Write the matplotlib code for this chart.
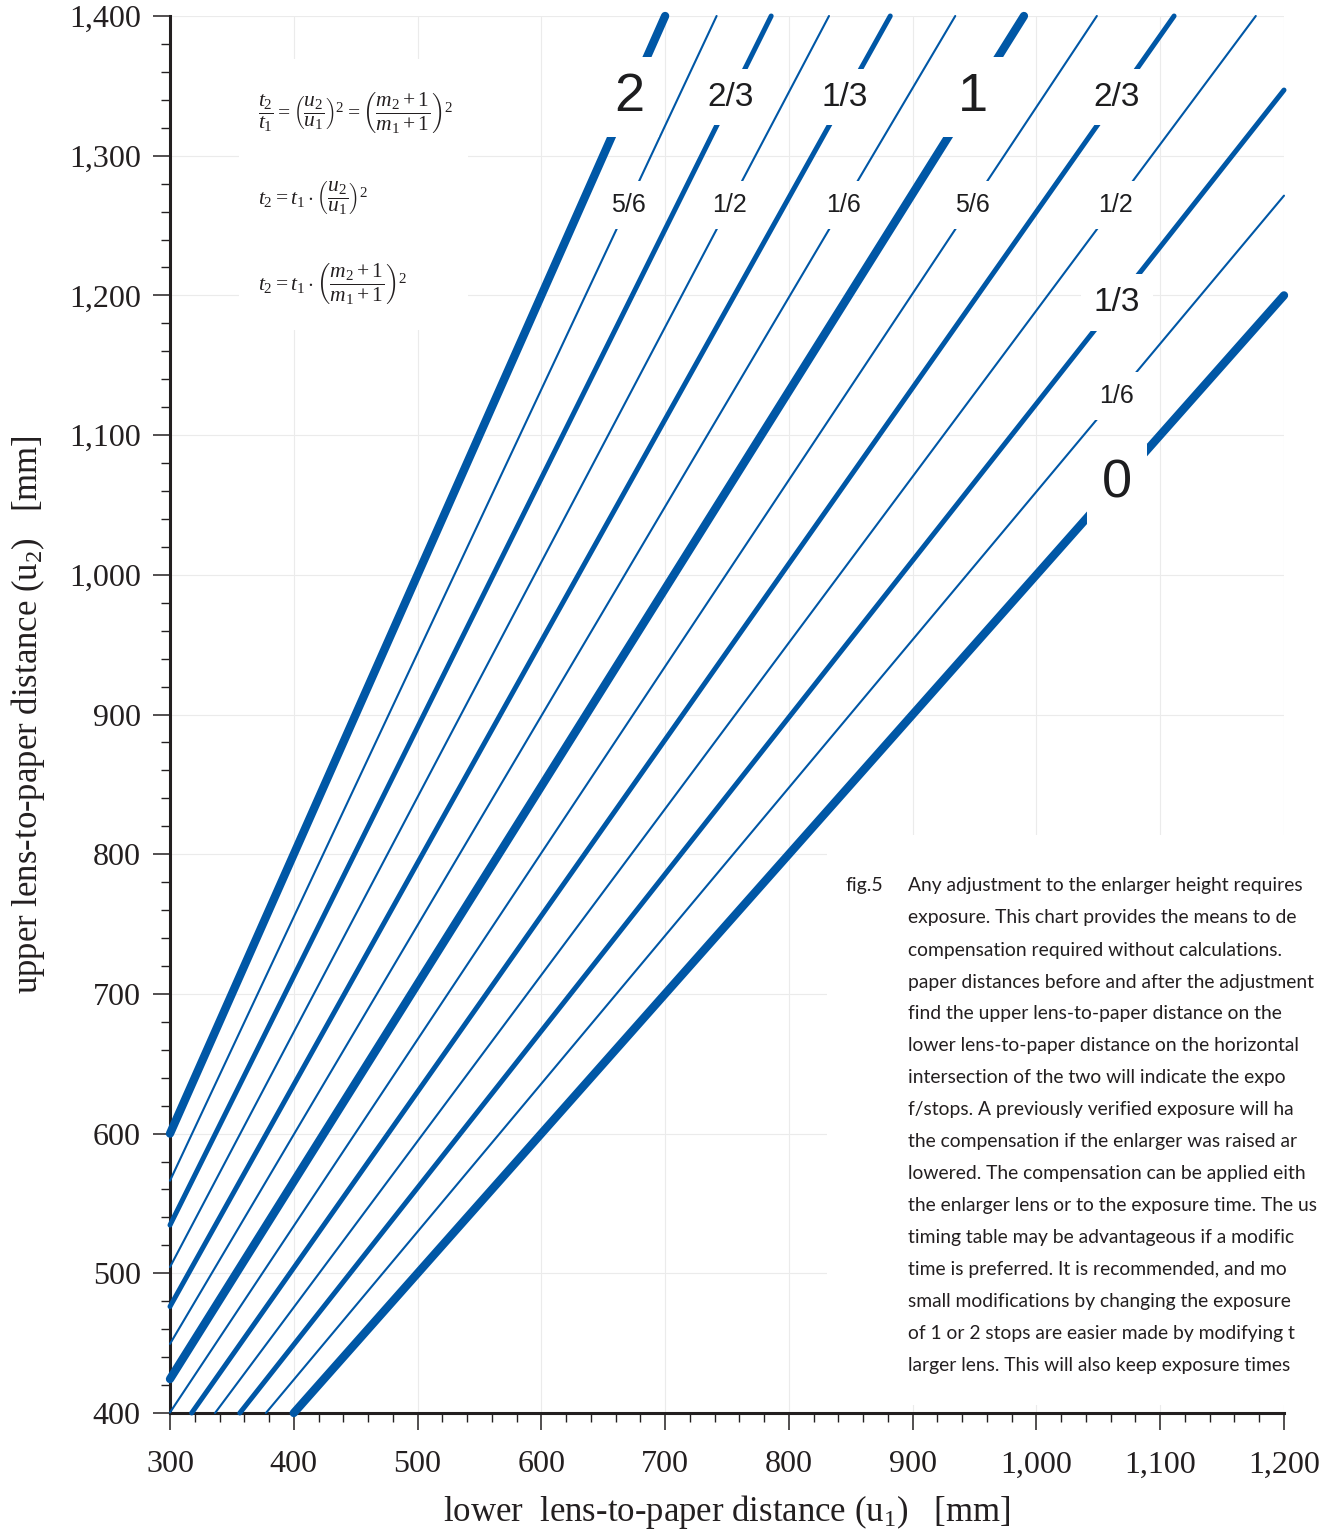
import matplotlib
matplotlib.use("Agg")
import matplotlib.pyplot as plt
from matplotlib.patches import Rectangle
from matplotlib.ticker import MultipleLocator

plt.rcParams['mathtext.fontset'] = 'custom'
plt.rcParams['mathtext.rm'] = 'Liberation Serif'
plt.rcParams['mathtext.it'] = 'Liberation Serif:italic'

# exposure lines: start and end points (u1, u2) in mm, one per 1/6 stop
stops = ['0', '1/6', '1/3', '1/2', '2/3', '5/6', '1', '7/6', '4/3', '3/2', '5/3', '11/6', '2']
u1_start = [400, 377.5, 356.4, 336.4, 317.5, 300, 300, 300, 300, 300, 300, 300, 300]
u2_start = [400, 400, 400, 400, 400, 400.4, 424.3, 449.5, 476.2, 504.5, 534.5, 566.3, 600]
u1_end = [1200, 1200, 1200, 1177.2, 1111.2, 1048.8, 989.9, 934.4, 881.9, 832.4, 785.7, 741.6, 700]
u2_end = [1200, 1271.4, 1347.0, 1400, 1400, 1400, 1400, 1400, 1400, 1400, 1400, 1400, 1400]
weight = ['thick', 'thin', 'mid', 'thin', 'mid', 'thin', 'thick', 'thin', 'mid', 'thin', 'mid', 'thin', 'thick']

# labels drawn on the lines
label_text = ['2', '2/3', '1/3', '1', '2/3', '5/6', '1/2', '1/6', '5/6', '1/2', '1/3', '1/6', '0']
label_u1 = [671, 753, 845, 949, 1065, 670, 752, 844, 948, 1064, 1065, 1065, 1065]
label_u2 = [1342, 1342, 1342, 1342, 1342, 1265, 1265, 1265, 1265, 1265, 1195, 1128, 1065]
label_size = ['big', 'mid', 'mid', 'big', 'mid', 'small', 'small', 'small', 'small', 'small', 'mid', 'small', 'big']

x_ticks = list(range(300, 1201, 100))
y_ticks = list(range(400, 1401, 100))

blue = '#0057a6'
ink = '#231f20'
widths = {'thick': 6.0, 'mid': 3.6, 'thin': 1.5}
fsizes = {'big': 39, 'mid': 24, 'small': 18}

fig = plt.figure(figsize=(13.25, 15.35), dpi=100)
ax = fig.add_axes([170/1325, 1-1413/1535, 1114/1325, 1397/1535])
ax.set_xlim(300, 1200)
ax.set_ylim(400, 1400)
ax.set_axisbelow(True)
ax.grid(True, color='#ebebeb', lw=0.8)

for sp in ['top', 'right']:
    ax.spines[sp].set_visible(False)
for sp in ['left', 'bottom']:
    ax.spines[sp].set_linewidth(2.2)
    ax.spines[sp].set_color(ink)

# white panels behind formulas and caption
ax.add_patch(Rectangle((356, 1175), 185, 194, facecolor='white', edgecolor='none', zorder=1))
ax.add_patch(Rectangle((831, 406), 380, 408, facecolor='white', edgecolor='none', zorder=1,
                       clip_on=False))

for i in range(len(stops)):
    ax.plot([u1_start[i], u1_end[i]], [u2_start[i], u2_end[i]], color=blue,
            lw=widths[weight[i]], solid_capstyle='round', clip_on=False, zorder=3)

for i in range(len(label_text)):
    fs = fsizes[label_size[i]]
    pad = {'big': 0.28, 'mid': 0.38, 'small': 0.48}[label_size[i]]
    ax.text(label_u1[i], label_u2[i], label_text[i], fontsize=fs, family='Liberation Sans',
            color='#1d1d1f', ha='center', va='center', zorder=4,
            bbox=dict(boxstyle='square,pad=%.2f' % pad, facecolor='white', edgecolor='none'))

ax.set_xticks(x_ticks)
ax.set_yticks(y_ticks)
ax.set_xticklabels(['{:,}'.format(v) for v in x_ticks])
ax.set_yticklabels(['{:,}'.format(v) for v in y_ticks])
ax.xaxis.set_minor_locator(MultipleLocator(20))
ax.yaxis.set_minor_locator(MultipleLocator(20))
ax.tick_params(which='major', length=12, width=1.1, color=ink, labelsize=23, labelcolor=ink)
ax.tick_params(which='minor', length=6.5, width=1.0, color=ink)
ax.tick_params(axis='x', which='major', pad=15)
ax.tick_params(axis='y', which='major', pad=9)
for lab in ax.get_xticklabels() + ax.get_yticklabels():
    lab.set_family('Liberation Serif')

ax.set_xlabel(r'lower  lens-to-paper distance (u$_{\rm 1}$)   [mm]', family='Liberation Serif',
              fontsize=25, color=ink, labelpad=10)
ax.set_ylabel(r'upper lens-to-paper distance (u$_{\rm 2}$)   [mm]', family='Liberation Serif',
              fontsize=25, color=ink, labelpad=16)

# formulas
fx = 0.079
ax.text(fx, 1 - 96/1397, r'$\dfrac{t_2}{t_1}=\left(\dfrac{u_2}{u_1}\right)^2=\left(\dfrac{m_2+1}{m_1+1}\right)^2$',
        transform=ax.transAxes, fontsize=15.5, color=ink, va='center', ha='left', zorder=5)
ax.text(fx, 1 - 181/1397, r'$t_2=t_1\cdot\left(\dfrac{u_2}{u_1}\right)^2$',
        transform=ax.transAxes, fontsize=15.5, color=ink, va='center', ha='left', zorder=5)
ax.text(fx, 1 - 267/1397, r'$t_2=t_1\cdot\left(\dfrac{m_2+1}{m_1+1}\right)^2$',
        transform=ax.transAxes, fontsize=15.5, color=ink, va='center', ha='left', zorder=5)

caption = [
    'Any adjustment to the enlarger height requires',
    'exposure. This chart provides the means to de',
    'compensation required without calculations.',
    'paper distances before and after the adjustment',
    'find the upper lens-to-paper distance on the',
    'lower lens-to-paper distance on the horizontal',
    'intersection of the two will indicate the expo',
    'f/stops. A previously verified exposure will ha',
    'the compensation if the enlarger was raised ar',
    'lowered. The compensation can be applied eith',
    'the enlarger lens or to the exposure time. The us',
    'timing table may be advantageous if a modific',
    'time is preferred. It is recommended, and mo',
    'small modifications by changing the exposure',
    'of 1 or 2 stops are easier made by modifying t',
    'larger lens. This will also keep exposure times',
]
fig.text(845/1325, 1 - 886/1535, 'fig.5', fontsize=14, family='Lato', color=ink, va='center')
for k, line in enumerate(caption):
    fig.text(908/1325, 1 - (886 + 32*k)/1535, line, fontsize=13.9, family='Lato',
             color=ink, va='center', ha='left')

fig.savefig('out.png', dpi=100)
